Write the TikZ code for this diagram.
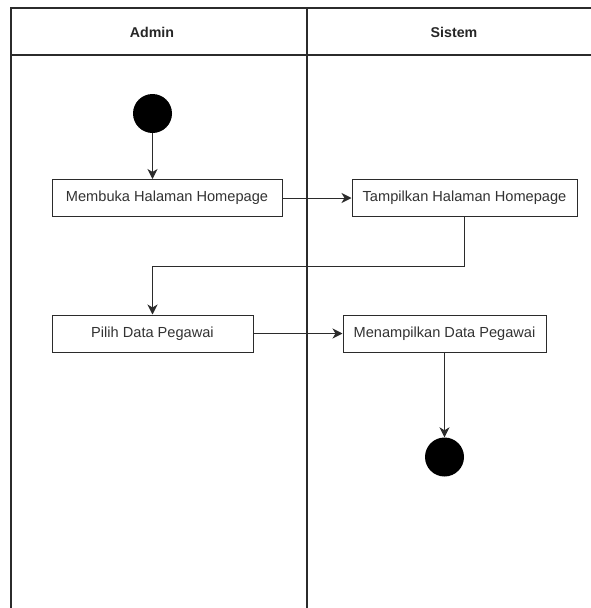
\documentclass[tikz,border=0pt]{standalone}
\usepackage{fontspec}
\setmainfont{Liberation Sans}
\usetikzlibrary{arrows.meta}
\definecolor{textgray}{HTML}{333333}
\definecolor{linegray}{HTML}{2B2B2B}
\begin{document}
\begin{tikzpicture}[x=1pt,y=-1pt,
  every node/.style={font=\fontsize{14.6pt}{17pt}\selectfont, text=textgray},
  lane/.style={draw=linegray, line width=1.1pt},
  lanehead/.style={font=\bfseries\fontsize{14.2pt}{17pt}\selectfont, text=black!85},
  action/.style={draw=linegray, line width=1pt, rectangle, inner sep=0pt,
                 minimum height=37pt, fill=white},
  initial/.style={circle, fill=black, draw=none, minimum size=39pt, inner sep=0pt},
  final/.style={circle, fill=black, draw=none, minimum size=39pt, inner sep=0pt},
  flow/.style={draw=linegray, line width=1pt, -{Stealth[length=10pt,width=10pt,inset=3pt]}}
]
\useasboundingbox (0,0) rectangle (591,608);

% swimlane frame (open to the right and bottom)
\draw[lane] (11,608) -- (11,8) -- (591,8);
\draw[lane] (11,55) -- (591,55);
\draw[lane] (307,8) -- (307,608);
\node[lanehead] (hadmin) at (152,32) {Admin};
\node[lanehead] (hsistem) at (454,32) {Sistem};

% activities
\node[initial] (start) at (152.5,113.5) {};
\node[action, minimum width=230pt] (membuka) at (167,198) {Membuka Halaman Homepage};
\node[action, minimum width=225pt] (tampil) at (464.5,198) {Tampilkan Halaman Homepage};
\node[action, minimum width=201pt] (pilih) at (152.5,333.5) {Pilih Data Pegawai};
\node[action, minimum width=203pt] (menampil) at (444.5,333.5) {Menampilkan Data Pegawai};
\node[final] (stop) at (444.5,457) {};

% control flow
\draw[flow] (start.south) -- (start.south |- membuka.north);
\draw[flow] (membuka.east) -- (tampil.west);
\draw[flow] (tampil.south) -- (tampil.south |- 0,266) -| (pilih.north);
\draw[flow] (pilih.east) -- (menampil.west);
\draw[flow] (menampil.south) -- (stop.north);
\end{tikzpicture}
\end{document}
